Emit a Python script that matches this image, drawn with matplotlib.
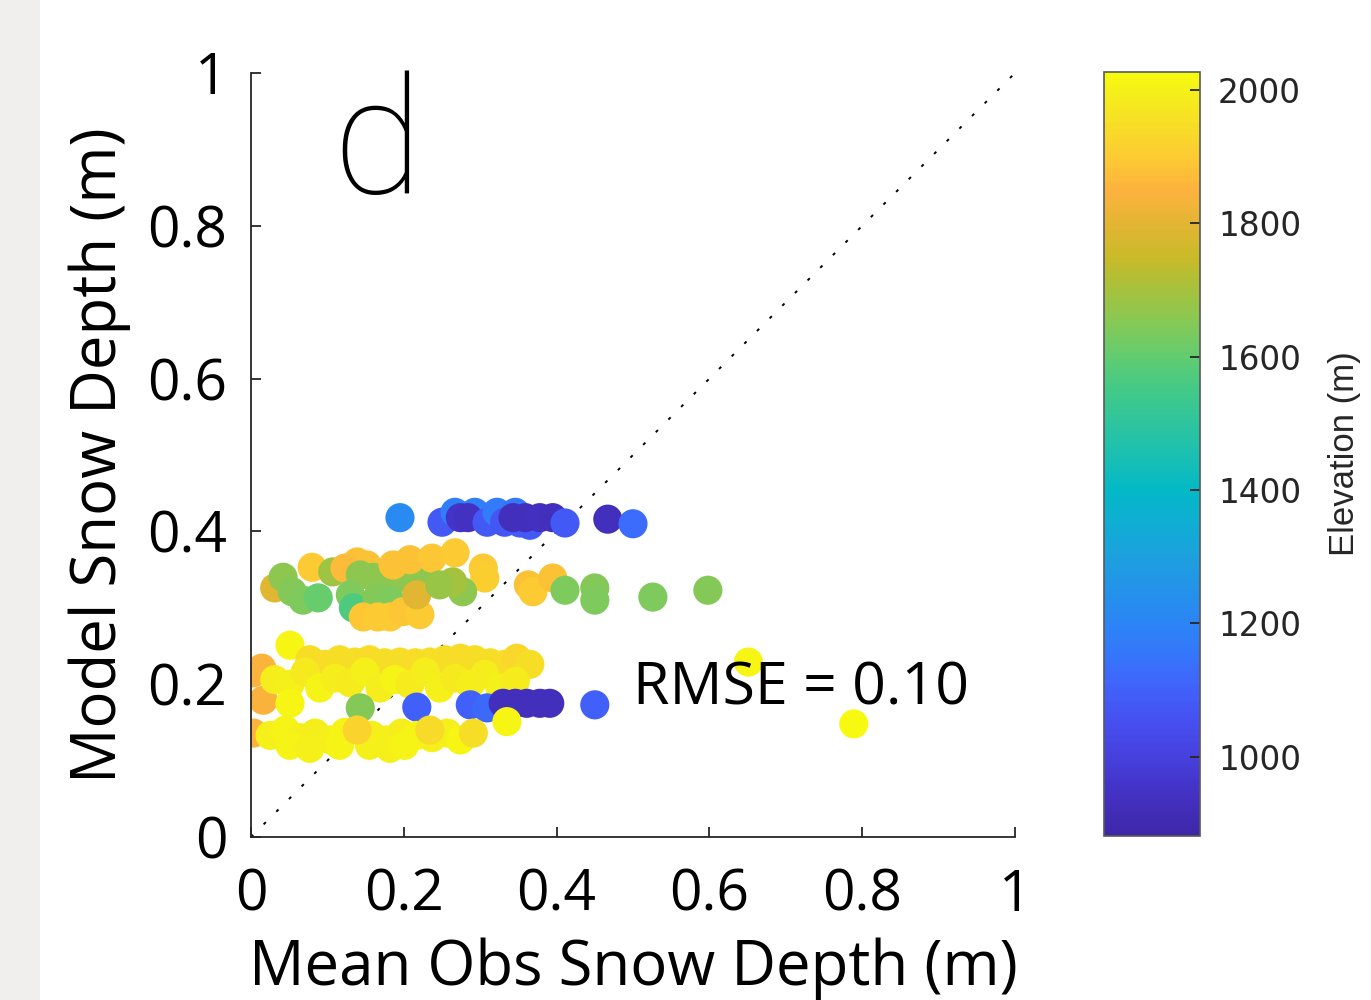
import numpy as np
import matplotlib
matplotlib.use("Agg")
import matplotlib.pyplot as plt
from matplotlib.colors import LinearSegmentedColormap, Normalize
from matplotlib.patches import Rectangle

# ---------------- data ----------------
obs_x = [
    # row ~0.41 (low elevation)
    0.195, 0.250, 0.267, 0.293, 0.274, 0.284, 0.309, 0.322, 0.332, 0.352, 0.346, 0.365,
    0.343, 0.359, 0.378, 0.395, 0.411, 0.467, 0.500,
    # row ~0.33 (mid/high elevation)
    0.031, 0.042, 0.080, 0.054, 0.068, 0.088, 0.107, 0.139, 0.152, 0.123, 0.143, 0.160,
    0.178, 0.198, 0.225, 0.130, 0.134, 0.165, 0.182, 0.147, 0.166, 0.182, 0.199, 0.221,
    0.186, 0.208, 0.237, 0.267, 0.304, 0.306, 0.277, 0.264, 0.217, 0.247, 0.363, 0.369,
    0.395, 0.411, 0.450, 0.450, 0.526, 0.598,
    # row ~0.21 (high elevation)
    0.003, 0.016, 0.014, 0.051,
    0.077, 0.097, 0.116, 0.136, 0.155, 0.175, 0.195, 0.215, 0.234, 0.254, 0.274, 0.293,
    0.313, 0.332, 0.348, 0.365,
    0.031, 0.051, 0.071, 0.090, 0.110, 0.130, 0.149, 0.169, 0.188, 0.208, 0.228, 0.247,
    0.267, 0.287, 0.306, 0.326, 0.346,
    0.051, 0.143,
    # row ~0.17 (low elevation)
    0.217, 0.287, 0.309, 0.330, 0.346, 0.361, 0.378, 0.391, 0.450, 0.335,
    # outliers
    0.651, 0.789,
    # row ~0.13 (high elevation)
    0.003, 0.025, 0.045, 0.064, 0.084, 0.104, 0.123, 0.158, 0.178, 0.197, 0.217, 0.237,
    0.257, 0.051, 0.077, 0.116, 0.155, 0.182, 0.201, 0.139, 0.234, 0.274, 0.291,
]
model_y = [
    0.418, 0.412, 0.425, 0.425, 0.418, 0.418, 0.412, 0.425, 0.412, 0.411, 0.425, 0.408,
    0.418, 0.418, 0.418, 0.418, 0.411, 0.416, 0.410,
    0.326, 0.340, 0.353, 0.321, 0.310, 0.313, 0.347, 0.360, 0.356, 0.352, 0.343, 0.340,
    0.340, 0.340, 0.343, 0.317, 0.300, 0.313, 0.310, 0.288, 0.288, 0.288, 0.295, 0.291,
    0.356, 0.363, 0.365, 0.372, 0.352, 0.339, 0.321, 0.334, 0.317, 0.330, 0.330, 0.321,
    0.339, 0.323, 0.326, 0.310, 0.314, 0.323,
    0.215, 0.179, 0.221, 0.251,
    0.232, 0.226, 0.232, 0.229, 0.232, 0.228, 0.229, 0.228, 0.229, 0.232, 0.234, 0.232,
    0.228, 0.226, 0.234, 0.226,
    0.206, 0.200, 0.216, 0.195, 0.208, 0.202, 0.216, 0.195, 0.206, 0.200, 0.216, 0.195,
    0.208, 0.200, 0.213, 0.195, 0.204,
    0.175, 0.169,
    0.170, 0.173, 0.169, 0.175, 0.175, 0.175, 0.175, 0.175, 0.173, 0.151,
    0.229, 0.148,
    0.136, 0.133, 0.140, 0.130, 0.136, 0.127, 0.137, 0.133, 0.127, 0.136, 0.133, 0.130,
    0.136, 0.120, 0.116, 0.120, 0.120, 0.116, 0.120, 0.140, 0.140, 0.127, 0.136,
]
elevation = [
    1220, 1080, 1180, 1180, 950, 940, 1080, 1170, 1070, 1090, 1160, 1080,
    930, 930, 935, 930, 1080, 930, 1130,
    1790, 1660, 1900, 1650, 1640, 1610, 1690, 1880, 1880, 1870, 1660, 1660,
    1660, 1660, 1660, 1640, 1570, 1650, 1640, 1890, 1900, 1900, 1890, 1900,
    1880, 1880, 1890, 1900, 1900, 1910, 1660, 1700, 1790, 1680, 1880, 1900,
    1880, 1640, 1650, 1640, 1640, 1650,
    1850, 1840, 1850, 2010,
    1950, 1945, 1950, 1950, 1945, 1950, 1950, 1945, 1950, 1950, 1945, 1950,
    1950, 1945, 1930, 1950,
    1990, 2000, 1980, 2005, 1990, 1985, 2000, 1990, 2005, 1985, 1990, 2000,
    1980, 1995, 1990, 2000, 1985,
    2010, 1650,
    1100, 1100, 1120, 930, 930, 930, 930, 930, 1100, 2010,
    2010, 2020,
    1850, 2000, 2005, 2000, 1995, 2000, 2005, 2000, 2000, 1995, 2005, 2000,
    2000, 2005, 2000, 2005, 2000, 2000, 2005, 1920, 1940, 2010, 1950,
]

x_ticks = [0, 0.2, 0.4, 0.6, 0.8, 1]
x_tick_labels = ["0", "0.2", "0.4", "0.6", "0.8", "1"]
y_ticks = [0, 0.2, 0.4, 0.6, 0.8, 1]
y_tick_labels = ["0", "0.2", "0.4", "0.6", "0.8", "1"]
cbar_ticks = [1000, 1200, 1400, 1600, 1800, 2000]
c_limits = (881, 2027)
rmse_text = "RMSE = 0.10"
panel_label = "d"

# parula-like colormap anchored on elevation values
cm_elev = [881, 950, 1000, 1050, 1100, 1150, 1200, 1300, 1350, 1400, 1450, 1500,
           1550, 1600, 1650, 1700, 1750, 1800, 1850, 1900, 1950, 2000, 2027]
cm_rgb = [
    (0.243, 0.150, 0.660), (0.265, 0.200, 0.780), (0.275, 0.255, 0.870),
    (0.275, 0.310, 0.940), (0.255, 0.380, 0.985), (0.210, 0.460, 0.985),
    (0.170, 0.520, 0.960), (0.110, 0.630, 0.870), (0.060, 0.680, 0.830),
    (0.010, 0.725, 0.780), (0.100, 0.750, 0.700), (0.180, 0.770, 0.620),
    (0.260, 0.790, 0.530), (0.380, 0.800, 0.440), (0.520, 0.790, 0.340),
    (0.650, 0.760, 0.240), (0.790, 0.730, 0.160), (0.890, 0.710, 0.200),
    (0.990, 0.700, 0.240), (0.990, 0.790, 0.200), (0.970, 0.870, 0.150),
    (0.960, 0.940, 0.100), (0.975, 0.985, 0.055),
]
pos = [(e - c_limits[0]) / (c_limits[1] - c_limits[0]) for e in cm_elev]
parula = LinearSegmentedColormap.from_list("parula_like", list(zip(pos, cm_rgb)), N=256)
norm = Normalize(vmin=c_limits[0], vmax=c_limits[1])

# ---------------- figure ----------------
fig = plt.figure(figsize=(13.71, 10.0), dpi=100)
fig.patch.set_facecolor("white")
fig.patches.append(Rectangle((0, 0), 40 / 1371, 1, transform=fig.transFigure,
                             facecolor=(0.945, 0.937, 0.929), edgecolor="none", zorder=0))

ax = fig.add_axes([251 / 1371, 1 - 837 / 1000, 764 / 1371, 764 / 1000])
axis_col = (0.15, 0.15, 0.15)

ax.plot([0, 1], [0, 1], linestyle=(0, (1.6, 7.6)), color="black", linewidth=1.4,
        zorder=1)
ax.scatter(obs_x, model_y, c=elevation, cmap=parula, norm=norm, s=440,
           linewidths=0, zorder=2)

ax.set_xlim(0, 1)
ax.set_ylim(0, 1)
for side in ("top", "right"):
    ax.spines[side].set_visible(False)
for side in ("left", "bottom"):
    ax.spines[side].set_color(axis_col)
    ax.spines[side].set_linewidth(1.3)

tick_font = dict(family="Open Sans", size=41)
ax.set_xticks(x_ticks)
ax.set_xticklabels(x_tick_labels, **tick_font)
ax.set_yticks(y_ticks)
ax.set_yticklabels(y_tick_labels, **tick_font)
ax.tick_params(axis="both", direction="in", length=7, width=1.3, color=axis_col,
               labelcolor="black")
ax.tick_params(axis="x", pad=22)
ax.tick_params(axis="y", pad=17)

ax.set_xlabel("Mean Obs Snow Depth (m)", family="Open Sans", size=44.5, labelpad=9)
ax.set_ylabel("Model Snow Depth (m)", family="Open Sans", size=44.5, labelpad=12)

ax.text(0.5, 0.194, rmse_text, family="Open Sans", size=42.5, ha="left", va="center",
        zorder=3)
ax.text(0.107, 0.843, panel_label, family=["Roboto", "Open Sans"], size=118,
        fontweight=100, ha="left", va="baseline", zorder=3, clip_on=False)

# ---------------- colorbar ----------------
cax = fig.add_axes([1104 / 1371, 1 - 836 / 1000, 96 / 1371, 764 / 1000])
sm = matplotlib.cm.ScalarMappable(norm=norm, cmap=parula)
cb = fig.colorbar(sm, cax=cax, ticks=cbar_ticks)
cb.outline.set_edgecolor((0.35, 0.35, 0.35))
cb.outline.set_linewidth(1.2)
cax.tick_params(direction="in", length=7, width=1.3, color=axis_col, pad=13,
                labelcolor=(0.15, 0.15, 0.15))
for lbl in cax.get_yticklabels():
    lbl.set_family("DejaVu Sans")
    lbl.set_size(23.5)
cb.set_label("Elevation (m)", family="Liberation Sans", size=25,
             color=(0.15, 0.15, 0.15), labelpad=19)

fig.savefig("out.png", dpi=100)
